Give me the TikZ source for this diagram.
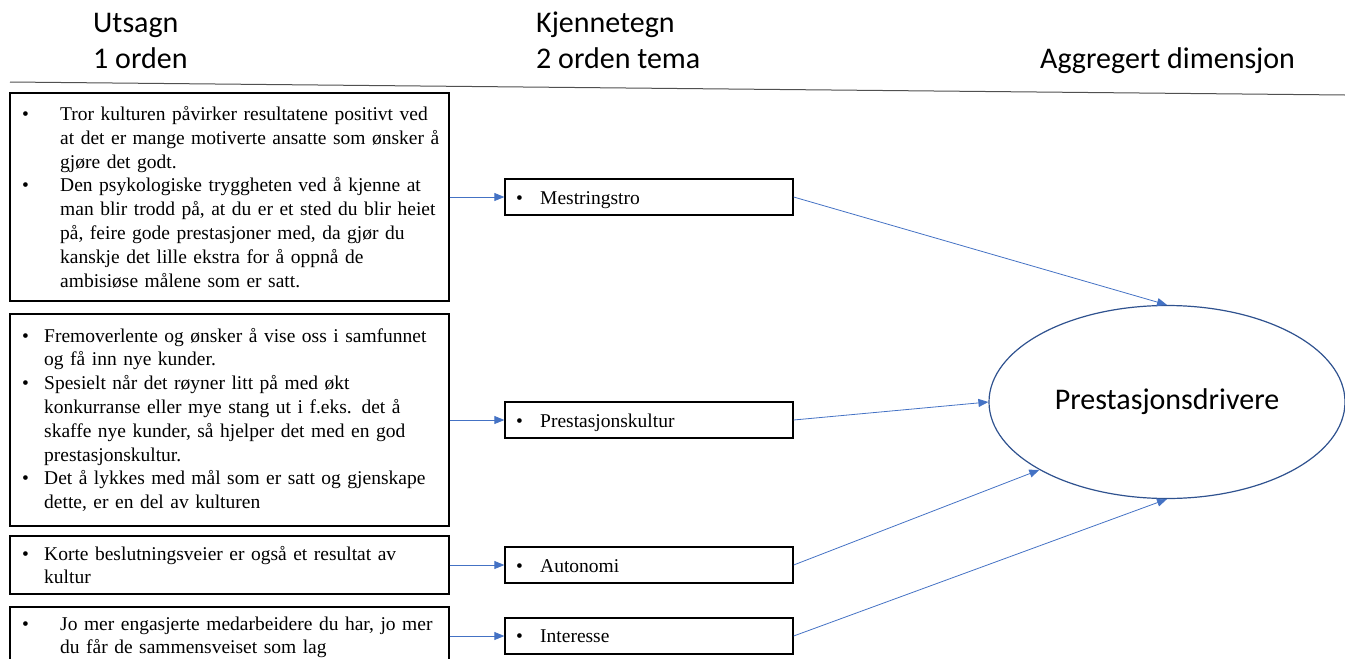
\documentclass[tikz,border=0pt]{standalone}
\usepackage{fontspec}
\setmainfont{Liberation Serif}
\newfontfamily\headfont{Carlito}
\usetikzlibrary{arrows.meta,shapes.geometric}
\definecolor{arrowblue}{HTML}{4472C4}
\definecolor{ringblue}{HTML}{2F528F}
\definecolor{rulegray}{HTML}{505050}

% bullet paragraph: #1 = hanging indent, #2 = text
\newcommand\bitem[2]{\noindent\hangindent=#1\hangafter=1\makebox[#1][l]{\hspace{12pt}\textbullet}#2\par}

\tikzset{
  head/.style={font=\headfont\fontsize{30}{36}\selectfont, inner sep=0pt, anchor=base west},
  quotebox/.style={draw=black, line width=1.3pt, minimum width=439pt, inner sep=0pt},
  quotetext/.style={font=\fontsize{19.5}{23.8}\selectfont, text width=445pt, inner sep=0pt, anchor=base west, align=left},
  themebox/.style={draw=black, line width=1.3pt, minimum width=288pt, minimum height=36pt, inner sep=0pt},
  themetext/.style={font=\fontsize{19.5}{23.8}\selectfont, inner sep=0pt, anchor=base west},
  conn/.style={draw=arrowblue, line width=0.8pt, -{Triangle[length=10pt,width=8pt]}},
}

\begin{document}
\begin{tikzpicture}[x=1pt, y=-1pt]
\useasboundingbox (0,0) rectangle (1345,659);

% column headings
\node[head] (h1a) at (93,32) {Utsagn};
\node[head] (h1b) at (93,68) {1 orden};
\node[head] (h2a) at (536,32) {Kjennetegn};
\node[head] (h2b) at (536,68) {2 orden tema};
\node[head] (h3) at (1040,68) {Aggregert dimensjon};
\draw[rulegray, line width=1pt] (10,82) -- (1345,95);

% first-order statements
\node[quotebox, minimum height=208pt] (s1) at (229.5,197) {};
\node[quotetext] (t1) at (10,120.5) {%
\bitem{50pt}{Tror kulturen påvirker resultatene positivt ved\newline at det er mange motiverte ansatte som ønsker å\newline gjøre det godt.}
\bitem{50pt}{Den psykologiske tryggheten ved å kjenne at\newline man blir trodd på, at du er et sted du blir heiet\newline på, feire gode prestasjoner med, da gjør du\newline kanskje det lille ekstra for å oppnå de\newline ambisiøse målene som er satt.}};

\node[quotebox, minimum height=212pt] (s2) at (229.5,420) {};
\node[quotetext] (t2) at (10,342) {%
\bitem{34pt}{Fremoverlente og ønsker å vise oss i samfunnet\newline og få inn nye kunder.}
\bitem{34pt}{Spesielt når det røyner litt på med økt\newline konkurranse eller mye stang ut i f.eks. det å\newline skaffe nye kunder, så hjelper det med en god\newline prestasjonskultur.}
\bitem{34pt}{Det å lykkes med mål som er satt og gjenskape\newline dette, er en del av kulturen}};

\node[quotebox, minimum height=58pt] (s3) at (229.5,565) {};
\node[quotetext] (t3) at (10,560) {%
\bitem{34pt}{Korte beslutningsveier er også et resultat av\newline kultur}};

\node[quotebox, minimum height=58pt] (s4) at (229.5,636) {};
\node[quotetext] (t4) at (10,630) {%
\bitem{50pt}{Jo mer engasjerte medarbeidere du har, jo mer\newline du får de sammensveiset som lag}};

% second-order themes
\node[themebox] (m1) at (649,197) {};
\node[themetext] (l1) at (516,204) {\makebox[24pt][l]{\textbullet}Mestringstro};
\node[themebox] (m2) at (649,420) {};
\node[themetext] (l2) at (516,427) {\makebox[24pt][l]{\textbullet}Prestasjonskultur};
\node[themebox] (m3) at (649,565) {};
\node[themetext] (l3) at (516,572) {\makebox[24pt][l]{\textbullet}Autonomi};
\node[themebox] (m4) at (649,636) {};
\node[themetext] (l4) at (516,642) {\makebox[24pt][l]{\textbullet}Interesse};

% aggregate dimension
\node[ellipse, draw=ringblue, line width=1.2pt, minimum width=356pt, minimum height=193pt, inner sep=0pt,
      font=\headfont\fontsize{30}{36}\selectfont] (agg) at (1167,402) {Prestasjonsdrivere};

% connectors
\draw[conn] (s1.east) -- (m1.west);
\draw[conn] (s2.east) -- (m2.west);
\draw[conn] (s3.east) -- (m3.west);
\draw[conn] (s4.east) -- (m4.west);
\draw[conn] (m1.east) -- (agg.north);
\draw[conn] (m2.east) -- (agg.west);
\draw[conn] (m3.east) -- (agg.208);
\draw[conn] (m4.east) -- (agg.south);
\end{tikzpicture}
\end{document}
